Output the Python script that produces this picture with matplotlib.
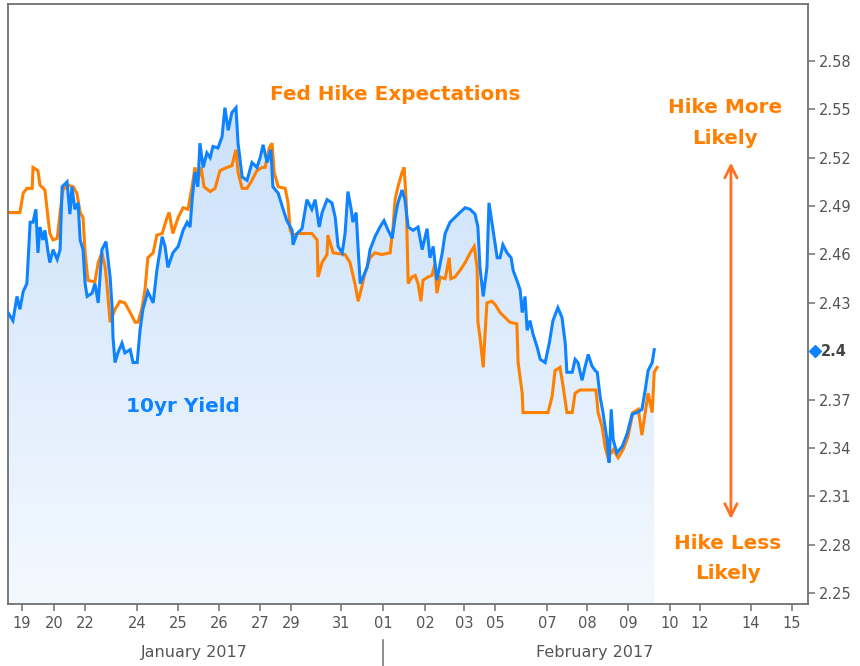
import numpy as np
import matplotlib
matplotlib.use("Agg")
import matplotlib.pyplot as plt
from matplotlib.colors import LinearSegmentedColormap
from matplotlib.transforms import blended_transform_factory

# time axis is in trading-day units from the left edge of the chart
yield_t = [0.00, 0.12, 0.22, 0.29, 0.37, 0.46, 0.54, 0.61, 0.68, 0.73, 0.78, 0.85, 0.90, 0.98,
           1.02, 1.10, 1.20, 1.27, 1.32, 1.44, 1.51, 1.56, 1.63, 1.71, 1.76, 1.83, 1.88, 1.93,
           2.05, 2.12, 2.20, 2.29, 2.39, 2.44, 2.49, 2.54, 2.56, 2.61, 2.68, 2.78, 2.85, 2.98,
           3.05, 3.15, 3.22, 3.29, 3.41, 3.54, 3.63, 3.76, 3.83, 3.90, 4.02, 4.15, 4.27, 4.37,
           4.44, 4.49, 4.56, 4.63, 4.68, 4.76, 4.85, 4.93, 5.00, 5.12, 5.22, 5.29, 5.37, 5.46,
           5.56, 5.61, 5.71, 5.83, 5.95, 6.07, 6.15, 6.22, 6.32, 6.41, 6.46, 6.59, 6.71, 6.80,
           6.93, 6.95, 7.05, 7.17, 7.29, 7.41, 7.49, 7.59, 7.66, 7.78, 7.90, 7.98, 8.05, 8.15,
           8.22, 8.29, 8.37, 8.41, 8.49, 8.54, 8.59, 8.66, 8.76, 8.83, 8.95, 9.07, 9.17, 9.27,
           9.37, 9.44, 9.51, 9.61, 9.68, 9.76, 9.88, 10.00, 10.10, 10.22, 10.29, 10.37, 10.46,
           10.59, 10.66, 10.78, 10.90, 11.02, 11.15, 11.27, 11.39, 11.46, 11.51, 11.59, 11.68,
           11.73, 11.83, 11.93, 12.00, 12.07, 12.17, 12.27, 12.32, 12.41, 12.49, 12.54, 12.61,
           12.66, 12.73, 12.80, 12.90, 12.98, 13.10, 13.20, 13.29, 13.41, 13.51, 13.59, 13.63,
           13.76, 13.83, 13.90, 14.00, 14.07, 14.15, 14.24, 14.32, 14.37, 14.44, 14.51, 14.61,
           14.66, 14.71, 14.76, 14.85, 14.98, 15.10, 15.22, 15.34, 15.46, 15.54, 15.61, 15.71,
           15.76]
yield_10yr = [2.424, 2.419, 2.434, 2.426, 2.437, 2.442, 2.480, 2.480, 2.488, 2.461, 2.477, 2.469,
              2.475, 2.461, 2.455, 2.463, 2.457, 2.463, 2.502, 2.505, 2.485, 2.502, 2.488, 2.492,
              2.469, 2.463, 2.442, 2.434, 2.436, 2.442, 2.430, 2.463, 2.468, 2.457, 2.446, 2.427,
              2.409, 2.393, 2.399, 2.405, 2.399, 2.401, 2.393, 2.393, 2.413, 2.426, 2.437, 2.430,
              2.450, 2.471, 2.465, 2.452, 2.461, 2.465, 2.475, 2.480, 2.477, 2.494, 2.511, 2.502,
              2.529, 2.514, 2.523, 2.520, 2.527, 2.526, 2.533, 2.551, 2.537, 2.548, 2.551, 2.529,
              2.508, 2.506, 2.517, 2.514, 2.520, 2.528, 2.517, 2.525, 2.502, 2.498, 2.488, 2.481,
              2.475, 2.466, 2.473, 2.476, 2.494, 2.488, 2.494, 2.477, 2.486, 2.494, 2.492, 2.483,
              2.465, 2.461, 2.473, 2.499, 2.488, 2.480, 2.486, 2.463, 2.442, 2.446, 2.452, 2.463,
              2.471, 2.477, 2.481, 2.475, 2.470, 2.483, 2.492, 2.500, 2.494, 2.477, 2.475, 2.477,
              2.463, 2.476, 2.458, 2.465, 2.444, 2.461, 2.473, 2.480, 2.483, 2.486, 2.489, 2.488,
              2.485, 2.477, 2.452, 2.434, 2.452, 2.492, 2.475, 2.458, 2.458, 2.466, 2.461, 2.458,
              2.450, 2.444, 2.438, 2.424, 2.434, 2.413, 2.419, 2.411, 2.403, 2.395, 2.393, 2.405,
              2.419, 2.427, 2.421, 2.405, 2.387, 2.387, 2.395, 2.393, 2.382, 2.390, 2.398, 2.391,
              2.388, 2.387, 2.372, 2.362, 2.345, 2.331, 2.364, 2.345, 2.337, 2.341, 2.349, 2.361,
              2.362, 2.364, 2.376, 2.388, 2.393, 2.401]

fed_t = [0.00, 0.29, 0.37, 0.46, 0.59, 0.61, 0.73, 0.78, 0.90, 0.95, 1.02, 1.10, 1.20, 1.27,
         1.34, 1.46, 1.59, 1.68, 1.76, 1.83, 1.88, 1.95, 2.12, 2.20, 2.29, 2.37, 2.41, 2.49,
         2.61, 2.73, 2.85, 2.98, 3.10, 3.17, 3.27, 3.34, 3.41, 3.54, 3.63, 3.76, 3.88, 3.93,
         4.02, 4.15, 4.27, 4.39, 4.49, 4.56, 4.63, 4.71, 4.78, 4.93, 5.05, 5.17, 5.34, 5.46,
         5.56, 5.61, 5.71, 5.83, 5.95, 6.07, 6.20, 6.27, 6.37, 6.44, 6.49, 6.59, 6.76, 6.83,
         6.88, 6.95, 7.07, 7.41, 7.54, 7.56, 7.66, 7.78, 7.80, 7.93, 8.22, 8.34, 8.46, 8.54,
         8.63, 8.71, 8.83, 8.95, 9.12, 9.32, 9.39, 9.44, 9.51, 9.61, 9.66, 9.71, 9.73, 9.76,
         9.85, 9.93, 10.00, 10.07, 10.12, 10.24, 10.34, 10.41, 10.46, 10.54, 10.66, 10.76,
         10.80, 10.90, 11.02, 11.15, 11.27, 11.37, 11.44, 11.46, 11.51, 11.59, 11.63, 11.68,
         11.80, 11.88, 12.00, 12.12, 12.24, 12.41, 12.44, 12.54, 12.56, 13.17, 13.27, 13.34,
         13.46, 13.54, 13.63, 13.76, 13.83, 13.95, 14.34, 14.39, 14.49, 14.56, 14.63, 14.76,
         14.88, 15.00, 15.12, 15.24, 15.37, 15.46, 15.54, 15.61, 15.71, 15.76, 15.83]
fed_hike = [2.486, 2.486, 2.498, 2.501, 2.501, 2.514, 2.512, 2.503, 2.500, 2.489, 2.473, 2.469,
            2.470, 2.486, 2.500, 2.503, 2.502, 2.498, 2.486, 2.483, 2.461, 2.444, 2.443, 2.455,
            2.461, 2.452, 2.442, 2.418, 2.426, 2.431, 2.430, 2.424, 2.418, 2.418, 2.427, 2.438,
            2.458, 2.461, 2.472, 2.473, 2.483, 2.486, 2.473, 2.483, 2.489, 2.488, 2.502, 2.514,
            2.506, 2.514, 2.502, 2.499, 2.501, 2.512, 2.514, 2.515, 2.525, 2.511, 2.501, 2.501,
            2.506, 2.512, 2.514, 2.514, 2.526, 2.529, 2.511, 2.502, 2.501, 2.492, 2.475, 2.472,
            2.473, 2.473, 2.469, 2.446, 2.455, 2.460, 2.472, 2.461, 2.460, 2.455, 2.442, 2.431,
            2.440, 2.449, 2.458, 2.461, 2.460, 2.461, 2.477, 2.494, 2.502, 2.511, 2.514, 2.494,
            2.473, 2.442, 2.446, 2.447, 2.442, 2.431, 2.444, 2.446, 2.447, 2.454, 2.436, 2.446,
            2.445, 2.458, 2.445, 2.446, 2.450, 2.455, 2.461, 2.465, 2.452, 2.418, 2.409, 2.390,
            2.409, 2.430, 2.431, 2.429, 2.424, 2.421, 2.418, 2.417, 2.393, 2.374, 2.362, 2.362,
            2.372, 2.388, 2.390, 2.378, 2.362, 2.362, 2.374, 2.376, 2.376, 2.362, 2.353, 2.341,
            2.334, 2.339, 2.334, 2.339, 2.347, 2.362, 2.364, 2.348, 2.362, 2.374, 2.362, 2.387,
            2.390]

day_ticks = [0.34, 1.12, 1.88, 3.15, 4.15, 5.15, 6.15, 6.90, 8.12, 9.15, 10.17, 11.12, 11.88,
             13.15, 14.12, 15.12, 16.15, 16.88, 18.12, 19.12]
day_labels = ["19", "20", "22", "24", "25", "26", "27", "29", "31", "01", "02", "03", "05",
              "07", "08", "09", "10", "12", "14", "15"]
y_ticks = [2.25, 2.28, 2.31, 2.34, 2.37, 2.43, 2.46, 2.49, 2.52, 2.55, 2.58]
last_yield = 2.40

blue = "#0f83ff"
orange = "#ff8000"
axis_grey = "#6f6f6f"
label_grey = "#555555"

fig = plt.figure(figsize=(8.6, 6.66), dpi=100)
ax = fig.add_axes([8 / 860, 62 / 666, 800 / 860, 600 / 666])
ymin, ymax = 2.2433, 2.6153
xmax = 19.51
ax.set_xlim(0, xmax)
ax.set_ylim(ymin, ymax)

# gradient fill under the 10yr line
poly = ax.fill_between(yield_t, yield_10yr, ymin, facecolor="none", edgecolor="none")
cmap = LinearSegmentedColormap.from_list("fill", ["#f4f9ff", "#c3dcf9"])
grad = np.linspace(0, 1, 256).reshape(-1, 1)
im = ax.imshow(grad, cmap=cmap, aspect="auto", origin="lower",
               extent=[0, yield_t[-1], ymin, ymax], zorder=1)
im.set_clip_path(poly.get_paths()[0], transform=ax.transData)

ax.plot(yield_t, yield_10yr, color=blue, lw=2.2, zorder=3, solid_joinstyle="miter")
ax.plot(fed_t, fed_hike, color=orange, lw=2.2, zorder=2, solid_joinstyle="miter")

# axes styling
for s in ax.spines.values():
    s.set_color(axis_grey)
    s.set_linewidth(1.3)
ax.yaxis.tick_right()
ax.set_yticks(y_ticks)
ax.set_yticklabels(["%.2f" % v for v in y_ticks])
ax.set_xticks(day_ticks)
ax.set_xticklabels(day_labels)
ax.tick_params(axis="both", colors=axis_grey, labelcolor=label_grey, length=5, width=1.1,
               labelsize=10.5)
ax.tick_params(axis="x", pad=4)
ax.tick_params(axis="y", pad=3)

# last value marker on the right axis
tr_y = blended_transform_factory(ax.transAxes, ax.transData)
ax.plot([1.009], [last_yield], marker="D", ms=6.5, color=blue, transform=tr_y, clip_on=False)
ax.text(1.016, last_yield, "2.4", transform=tr_y, ha="left", va="center", fontsize=10.5,
        fontweight="bold", color="#444444")

# month labels and divider
tr_x = blended_transform_factory(ax.transData, ax.transAxes)
ax.text(4.54, -0.08, "January 2017", transform=tr_x, ha="center", va="center",
        fontsize=11.5, color=label_grey)
ax.text(14.32, -0.08, "February 2017", transform=tr_x, ha="center", va="center",
        fontsize=11.5, color=label_grey)
ax.plot([9.15, 9.15], [-0.06, -0.11], transform=tr_x, color=axis_grey, lw=1.1, clip_on=False)

# annotations
big = 14.4
ax.text(9.44, 2.559, "Fed Hike Expectations", ha="center", va="center", fontsize=big,
        fontweight="bold", color=orange)
ax.text(4.27, 2.3655, "10yr Yield", ha="center", va="center", fontsize=big,
        fontweight="bold", color=blue)
ax.text(17.49, 2.551, "Hike More", ha="center", va="center", fontsize=big,
        fontweight="bold", color=orange)
ax.text(17.49, 2.532, "Likely", ha="center", va="center", fontsize=big,
        fontweight="bold", color=orange)
ax.text(17.56, 2.281, "Hike Less", ha="center", va="center", fontsize=big,
        fontweight="bold", color=orange)
ax.text(17.56, 2.262, "Likely", ha="center", va="center", fontsize=big,
        fontweight="bold", color=orange)
ax.annotate("", xy=(17.63, 2.517), xytext=(17.63, 2.296),
            arrowprops=dict(arrowstyle="<->", color="#ff7020", lw=2, mutation_scale=22,
                            shrinkA=0, shrinkB=0))

fig.savefig("out.png", dpi=100)
